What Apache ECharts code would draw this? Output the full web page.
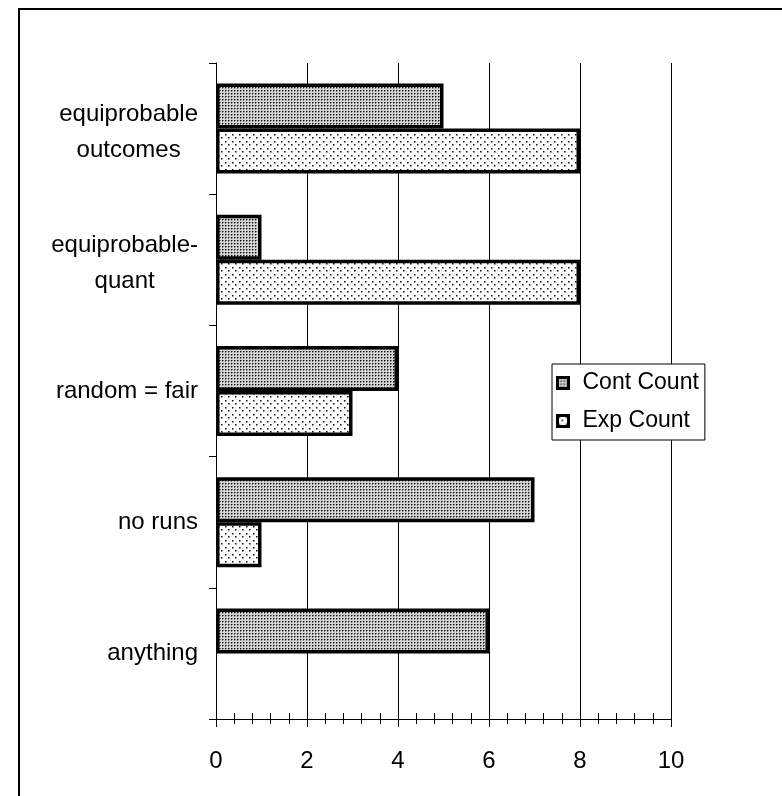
<!DOCTYPE html>
<html>
<head>
<meta charset="utf-8">
<style>
  html, body { margin: 0; padding: 0; background: #fff; }
  #chart { width: 782px; height: 796px; }
</style>
<script src="https://cdn.jsdelivr.net/npm/echarts@6/dist/echarts.min.js"></script>
</head>
<body>
<div id="chart"></div>
<script>
// Response categories, top to bottom
const categories = ['equiprobable\noutcomes', 'equiprobable-\nquant', 'random = fair', 'no runs', 'anything'];
const seriesNames = ['Cont Count', 'Exp Count'];
const contCount = [5, 1, 4, 7, 6];
const expCount = [8, 8, 3, 1, 0];
const xTicks = [0, 2, 4, 6, 8, 10];

const FONT = "'Liberation Sans', Arial, sans-serif";

// Small tiled canvases used as fill patterns
function makeTile(w, h, bg, dots) {
  const c = document.createElement('canvas');
  c.width = w; c.height = h;
  const ctx = c.getContext('2d');
  ctx.fillStyle = bg;
  ctx.fillRect(0, 0, w, h);
  dots.forEach(([x, y, col]) => { ctx.fillStyle = col; ctx.fillRect(x, y, 1, 1); });
  return c;
}
const densePattern = makeTile(3, 3, '#d4d4d4', [[0, 0, '#111'], [1, 0, '#777'], [0, 1, '#777']]);
const sparsePattern = makeTile(7, 7, '#ffffff', [
  [1, 1, '#111'], [2, 1, '#888'], [1, 2, '#888'], [2, 2, '#bbb'],
  [4, 4, '#111'], [5, 4, '#888'], [4, 5, '#888'], [5, 5, '#bbb']
]);

const barBorder = { borderColor: '#000', borderWidth: 3.5 };

const chart = echarts.init(document.getElementById('chart'), null, { renderer: 'canvas' });

chart.setOption({
  animation: false,
  backgroundColor: '#fff',
  graphic: [{
    type: 'rect',
    shape: { x: 19, y: 9, width: 800, height: 820 },
    style: { fill: 'none', stroke: '#000', lineWidth: 2 },
    z: -10
  }],
  grid: { left: 216, right: 111, top: 63, bottom: 77, containLabel: false },
  legend: {
    orient: 'vertical',
    left: 552,
    top: 364,
    padding: [6, 6, 6, 4],
    itemGap: 12,
    itemWidth: 11,
    itemHeight: 11,
    icon: 'rect',
    borderColor: '#000',
    borderWidth: 1,
    backgroundColor: '#fff',
    itemStyle: { borderColor: '#000', borderWidth: 3 },
    textStyle: { fontFamily: FONT, fontSize: 23, color: '#000', lineHeight: 26, padding: [0, 0, 0, 9] },
    data: seriesNames
  },
  xAxis: [{
    type: 'value',
    min: xTicks[0],
    max: xTicks[xTicks.length - 1],
    interval: 2,
    axisLine: { show: true, lineStyle: { color: '#000', width: 1 } },
    axisTick: { show: true, inside: false, length: 8, lineStyle: { color: '#000' } },
    minorTick: { show: true, splitNumber: 5, length: 5, lineStyle: { color: '#000' } },
    splitLine: { show: true, lineStyle: { color: '#000', width: 1 } },
    axisLabel: {
      margin: 30,
      fontFamily: FONT,
      fontSize: 24,
      color: '#000',
      formatter: v => xTicks.includes(v) ? String(v) : ''
    }
  }, {
    // tick marks rising above the baseline
    type: 'value',
    position: 'bottom',
    min: xTicks[0],
    max: xTicks[xTicks.length - 1],
    interval: 2,
    axisLine: { show: false },
    axisTick: { show: true, inside: true, length: 7, lineStyle: { color: '#000' } },
    minorTick: { show: true, splitNumber: 5, length: 6, lineStyle: { color: '#000' } },
    splitLine: { show: false },
    axisLabel: { show: false }
  }],
  yAxis: {
    type: 'category',
    inverse: true,
    data: categories,
    axisLine: { show: true, lineStyle: { color: '#000', width: 1 } },
    axisTick: { show: true, length: 7, lineStyle: { color: '#000' } },
    axisLabel: {
      margin: 18,
      fontFamily: FONT,
      fontSize: 24,
      color: '#000',
      lineHeight: 36,
      align: 'right',
      formatter: v => {
        const lines = v.split('\n');
        // two-line labels sit slightly low in their band
        if (lines.length > 1) return '{s|}\n' + lines.map(s => '{c|' + s + '}').join('\n');
        return '{c|' + v + '}';
      },
      rich: {
        c: { align: 'center', fontFamily: FONT, fontSize: 24, lineHeight: 36, color: '#000' },
        s: { lineHeight: 8, fontSize: 1 }
      }
    }
  },
  series: [{
    name: seriesNames[0],
    type: 'bar',
    barWidth: 45,
    barGap: '0%',
    data: contCount,
    itemStyle: Object.assign({ color: { image: densePattern, repeat: 'repeat' } }, barBorder),
    z: 2
  }, {
    name: seriesNames[1],
    type: 'bar',
    barWidth: 45,
    barGap: '0%',
    data: expCount.map(v => v === 0 ? { value: v, itemStyle: { borderWidth: 0 } } : v),
    itemStyle: Object.assign({ color: { image: sparsePattern, repeat: 'repeat' } }, barBorder),
    z: 3
  }]
});
</script>
</body>
</html>
